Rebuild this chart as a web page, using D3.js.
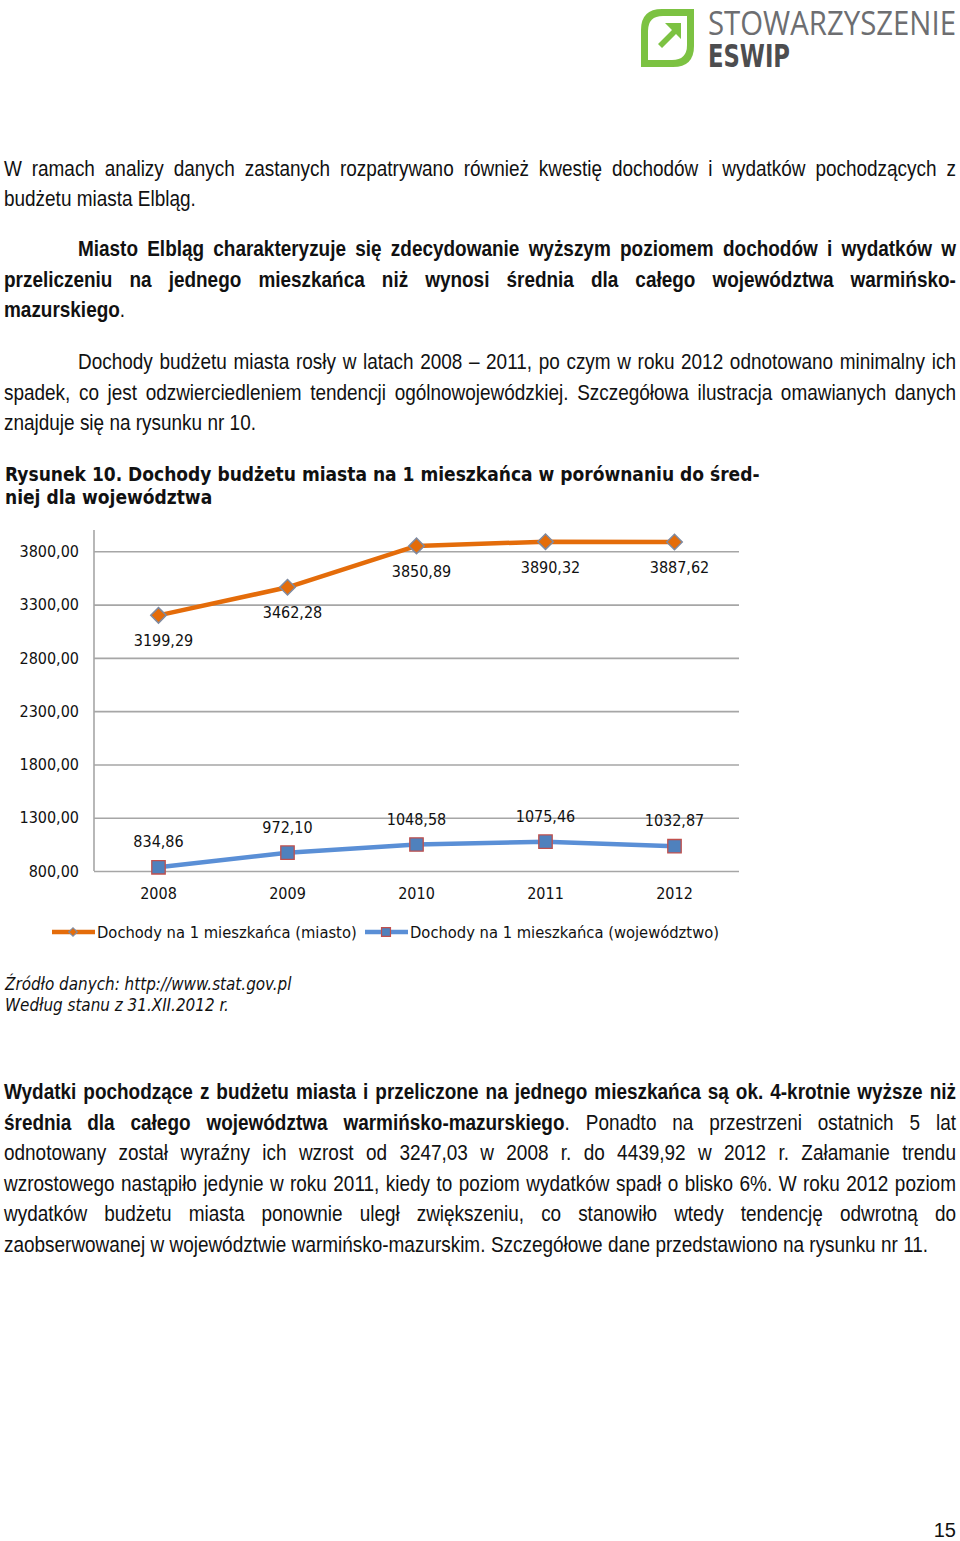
<!DOCTYPE html>
<html lang="pl">
<head>
<meta charset="utf-8">
<script src="https://cdn.jsdelivr.net/npm/d3@7"></script>
<style>
  html, body { margin: 0; padding: 0; background: #fff; }
  svg { display: block; }
</style>
</head>
<body>
<svg id="page" width="960" height="1541"></svg>
<script>
// ---------- DATA ----------
const years = ["2008", "2009", "2010", "2011", "2012"];
const cityValues = [3199.29, 3462.28, 3850.89, 3890.32, 3887.62];
const regionValues = [834.86, 972.10, 1048.58, 1075.46, 1032.87];
const yTicks = [800, 1300, 1800, 2300, 2800, 3300, 3800];
const seriesNames = ["Dochody na 1 mieszkańca (miasto)", "Dochody na 1 mieszkańca (województwo)"];
const figureTitle = ["Rysunek 10. Dochody budżetu miasta na 1 mieszkańca w porównaniu do śred-", "niej dla województwa"];
const sourceLines = ["Źródło danych: http://www.stat.gov.pl", "Według stanu z 31.XII.2012 r."];

// body text lines: [segments], indent, baseline, justify
const bodyLines = [
  {segs: [["W ramach analizy danych zastanych rozpatrywano również kwestię dochodów i wydatków pochodzących z", 0]], x: 4, y: 176, j: true},
  {segs: [["budżetu miasta Elbląg.", 0]], x: 4, y: 206, j: false},
  {segs: [["Miasto Elbląg charakteryzuje się zdecydowanie wyższym poziomem dochodów i wydatków w", 1]], x: 78, y: 256, j: true},
  {segs: [["przeliczeniu na jednego mieszkańca niż wynosi średnia dla całego województwa warmińsko-", 1]], x: 4, y: 287, j: true},
  {segs: [["mazurskiego", 1], [".", 0]], x: 4, y: 317, j: false},
  {segs: [["Dochody budżetu miasta rosły w latach 2008 – 2011, po czym w roku 2012 odnotowano minimalny ich", 0]], x: 78, y: 369, j: true},
  {segs: [["spadek, co jest odzwierciedleniem tendencji ogólnowojewódzkiej. Szczegółowa ilustracja omawianych danych", 0]], x: 4, y: 400, j: true},
  {segs: [["znajduje się na rysunku nr 10.", 0]], x: 4, y: 430, j: false},
  {segs: [["Wydatki pochodzące z budżetu miasta i przeliczone na jednego mieszkańca są ok. 4-krotnie wyższe niż", 1]], x: 4, y: 1099, j: true},
  {segs: [["średnia dla całego województwa warmińsko-mazurskiego", 1], [". Ponadto na przestrzeni ostatnich 5 lat", 0]], x: 4, y: 1130, j: true},
  {segs: [["odnotowany został wyraźny ich wzrost od 3247,03 w 2008 r. do 4439,92 w 2012 r. Załamanie trendu", 0]], x: 4, y: 1160, j: true},
  {segs: [["wzrostowego nastąpiło jedynie w roku 2011, kiedy to poziom wydatków spadł o blisko 6%. W roku 2012 poziom", 0]], x: 4, y: 1191, j: true},
  {segs: [["wydatków budżetu miasta ponownie uległ zwiększeniu, co stanowiło wtedy tendencję odwrotną do", 0]], x: 4, y: 1221, j: true},
  {segs: [["zaobserwowanej w województwie warmińsko-mazurskim. Szczegółowe dane przedstawiono na rysunku nr 11.", 0]], x: 4, y: 1252, j: false}
];

// ---------- SETUP ----------
const svg = d3.select("#page");
const bodyFont = "'Liberation Sans', Arial, sans-serif";
const chartFont = "'DejaVu Sans Condensed', 'DejaVu Sans', sans-serif";
const rightEdge = 956;
const narrow = 0.862; // horizontal squeeze imitating Arial Narrow

// ---------- LOGO ----------
const logo = svg.append("g");
logo.append("path")
  .attr("d", "M641,30 Q641,9 662,9 L694,9 L694,46 Q694,67 673,67 L641,67 Z")
  .attr("fill", "#7cc242");
logo.append("path")
  .attr("d", "M648,31 Q648,16 663,16 L687,16 L687,45 Q687,60 672,60 L648,60 Z")
  .attr("fill", "#ffffff");
logo.append("path")
  .attr("d", "M665,23 L681,23 L681,39 L676,34 L662,48 L658,44 L672,30 Z")
  .attr("fill", "#7cc242");
logo.append("text").attr("x", 708).attr("y", 35)
  .attr("font-family", "'Open Sans', 'DejaVu Sans', sans-serif").attr("font-weight", 400)
  .attr("font-size", 33).attr("fill", "#6d6e71")
  .attr("textLength", 248).attr("lengthAdjust", "spacingAndGlyphs")
  .text("STOWARZYSZENIE");
logo.append("text").attr("x", 708).attr("y", 67)
  .attr("font-family", "'DejaVu Sans Condensed', 'DejaVu Sans', sans-serif").attr("font-weight", "bold")
  .attr("font-size", 32).attr("fill", "#4d4d4f")
  .attr("textLength", 82).attr("lengthAdjust", "spacingAndGlyphs")
  .text("ESWIP");

// ---------- BODY TEXT (justified word by word) ----------
const measure = svg.append("text").attr("font-family", bodyFont).attr("font-size", 22).attr("visibility", "hidden");
function wordWidth(w, bold) {
  measure.attr("font-weight", bold ? "bold" : "normal").text(w);
  return measure.node().getComputedTextLength() * narrow;
}
function spaceWidth(bold) {
  measure.attr("font-weight", bold ? "bold" : "normal").text("a a");
  const a2 = measure.node().getComputedTextLength();
  measure.text("aa");
  return (a2 - measure.node().getComputedTextLength()) * narrow;
}
bodyLines.forEach(line => {
  const words = [];
  line.segs.forEach(([txt, bold], si) => {
    const parts = txt.split(" ");
    parts.forEach((p, pi) => {
      if (p === "") return;
      const attach = (pi === 0 && si > 0 && !txt.startsWith(" "));
      if (attach && words.length) {
        words[words.length - 1].pieces.push({t: p, b: bold});
      } else {
        words.push({pieces: [{t: p, b: bold}]});
      }
    });
  });
  words.forEach(w => { w.width = d3.sum(w.pieces, p => wordWidth(p.t, p.b)); });
  const spaceW = spaceWidth(line.segs[0][1]);
  const total = d3.sum(words, w => w.width);
  const gap = line.j ? (rightEdge - line.x - total) / (words.length - 1) : spaceW;
  const g = svg.append("g").attr("transform", `translate(${line.x},${line.y}) scale(${narrow},1)`);
  let pos = 0;
  words.forEach(w => {
    const t = g.append("text").attr("x", pos / narrow).attr("y", 0)
      .attr("font-family", bodyFont).attr("font-size", 22).attr("fill", "#111");
    w.pieces.forEach(p => t.append("tspan").attr("font-weight", p.b ? "bold" : "normal").text(p.t));
    pos += w.width + gap;
  });
});
measure.remove();

// ---------- FIGURE TITLE ----------
svg.selectAll(".ftitle").data(figureTitle).join("text")
  .attr("class", "ftitle")
  .attr("x", 5).attr("y", (d, i) => 481 + i * 23)
  .attr("font-family", chartFont).attr("font-weight", "bold").attr("font-size", 19)
  .attr("fill", "#111").text(d => d);

// ---------- CHART ----------
const x = d3.scaleBand().domain(years).range([94, 739]);
const y = d3.scaleLinear().domain([800, 4000]).range([871, 530]);
const fmt = v => d3.format(".2f")(v).replace(".", ",");
const chart = svg.append("g");

const yAxis = chart.append("g").attr("transform", "translate(94,0)")
  .call(d3.axisLeft(y).tickValues(yTicks).tickFormat(fmt).tickSize(-645).tickPadding(15));
yAxis.select(".domain").remove();
yAxis.selectAll(".tick line").attr("stroke", "#a6a6a6").attr("stroke-width", 1.6);
yAxis.selectAll(".tick text").attr("font-family", chartFont).attr("font-size", 16).attr("fill", "#111");

chart.append("line").attr("x1", 94).attr("x2", 94).attr("y1", y(4000)).attr("y2", y(800))
  .attr("stroke", "#a6a6a6").attr("stroke-width", 1.6);

const xAxis = chart.append("g").attr("transform", "translate(0,871)")
  .call(d3.axisBottom(x).tickSize(0).tickPadding(17));
xAxis.select(".domain").remove();
xAxis.selectAll(".tick text").attr("font-family", chartFont).attr("font-size", 16).attr("fill", "#111");

const cx = d => x(d) + x.bandwidth() / 2;
const orange = "#e46c0a";
const blue = "#5a8fd6";

const cityData = years.map((yr, i) => ({yr, v: cityValues[i]}));
const regData = years.map((yr, i) => ({yr, v: regionValues[i]}));
const lineGen = d3.line().x(d => cx(d.yr)).y(d => y(d.v));

chart.append("path").datum(cityData).attr("d", lineGen)
  .attr("fill", "none").attr("stroke", orange).attr("stroke-width", 4.5).attr("stroke-linejoin", "round");
chart.append("path").datum(regData).attr("d", lineGen)
  .attr("fill", "none").attr("stroke", blue).attr("stroke-width", 4.5).attr("stroke-linejoin", "round");

const diamond = d3.symbol().type(d3.symbolSquare).size(120);
chart.selectAll(".cmark").data(cityData).join("path").attr("class", "cmark")
  .attr("d", diamond)
  .attr("transform", d => `translate(${cx(d.yr)},${y(d.v)}) rotate(45)`)
  .attr("fill", orange).attr("stroke", "#7f8aa0").attr("stroke-width", 1.5);

const square = d3.symbol().type(d3.symbolSquare).size(180);
chart.selectAll(".rmark").data(regData).join("path").attr("class", "rmark")
  .attr("d", square)
  .attr("transform", d => `translate(${cx(d.yr)},${y(d.v)})`)
  .attr("fill", "#4f81bd").attr("stroke", "#c0504d").attr("stroke-width", 1.3);

chart.selectAll(".clab").data(cityData).join("text").attr("class", "clab")
  .attr("x", d => cx(d.yr) + 5).attr("y", d => y(d.v) + 31)
  .attr("text-anchor", "middle").attr("font-family", chartFont).attr("font-size", 16).attr("fill", "#111")
  .text(d => fmt(d.v));
chart.selectAll(".rlab").data(regData).join("text").attr("class", "rlab")
  .attr("x", d => cx(d.yr)).attr("y", d => y(d.v) - 20)
  .attr("text-anchor", "middle").attr("font-family", chartFont).attr("font-size", 16).attr("fill", "#111")
  .text(d => fmt(d.v));

const legend = chart.append("g");
const legendItems = [
  {name: seriesNames[0], color: orange, x: 52, marker: "d"},
  {name: seriesNames[1], color: blue, x: 365, marker: "s"}
];
legendItems.forEach(it => {
  legend.append("line").attr("x1", it.x).attr("x2", it.x + 43).attr("y1", 932).attr("y2", 932)
    .attr("stroke", it.color).attr("stroke-width", 4.5);
  if (it.marker === "d") {
    legend.append("path").attr("d", d3.symbol().type(d3.symbolSquare).size(36)())
      .attr("transform", `translate(${it.x + 21},932) rotate(45)`)
      .attr("fill", orange).attr("stroke", "#7f8aa0").attr("stroke-width", 1.2);
  } else {
    legend.append("path").attr("d", d3.symbol().type(d3.symbolSquare).size(80)())
      .attr("transform", `translate(${it.x + 21},932)`)
      .attr("fill", "#4f81bd").attr("stroke", "#c0504d").attr("stroke-width", 1.2);
  }
  legend.append("text").attr("x", it.x + 45).attr("y", 938)
    .attr("font-family", chartFont).attr("font-size", 16.4).attr("fill", "#111").text(it.name);
});

svg.selectAll(".src").data(sourceLines).join("text").attr("class", "src")
  .attr("x", 5).attr("y", (d, i) => 990 + i * 21)
  .attr("font-family", chartFont).attr("font-style", "italic").attr("font-size", 16.9)
  .attr("fill", "#111").text(d => d);

svg.append("text").attr("x", 956).attr("y", 1537).attr("text-anchor", "end")
  .attr("font-family", "'Liberation Sans', sans-serif").attr("font-size", 20).attr("fill", "#111").text("15");
</script>
</body>
</html>
